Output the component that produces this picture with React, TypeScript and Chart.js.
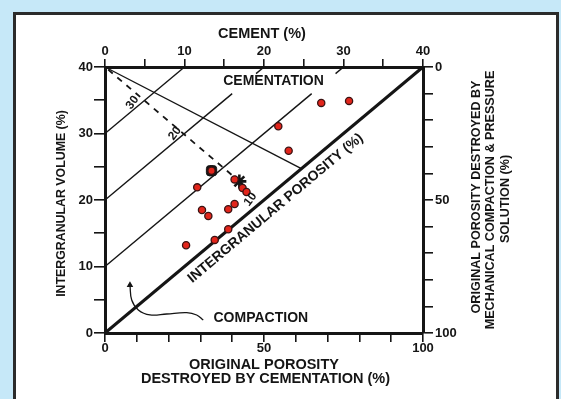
import { useEffect, useRef } from "react";
import { Chart, registerables } from "chart.js";

Chart.register(...registerables);

// Cement (%) vs intergranular volume (%) for each sample
const cementPct = [27.2, 30.7, 21.8, 23.1, 13.4, 16.3, 17.3, 17.8, 11.6, 12.2, 13.0, 15.5, 16.3, 15.5, 13.8, 10.2];
const igvPct = [34.6, 34.9, 31.1, 27.4, 24.4, 23.1, 21.8, 21.2, 21.9, 18.5, 17.6, 18.6, 19.4, 15.6, 14.0, 13.2];

// Mean sample and the highlighted sample
const meanPoint = { x: 16.9, y: 22.8 };
const boxedPoint = { x: 13.4, y: 24.4 };

// Axis tick labels
const cementLabels = [0, 10, 20, 30, 40];
const igvLabels = [0, 10, 20, 30, 40];
const cementationLabels = [0, 50, 100];
const compactionLabels = [0, 50, 100];

// Reference lines (cement %, intergranular volume %)
const porosityLine = [{ x: 0, y: 0 }, { x: 40, y: 40 }];
const cementLines = [
  [{ x: 0, y: 30 }, { x: 10, y: 40 }],
  [{ x: 0, y: 20 }, { x: 16, y: 36 }],
  [{ x: 19, y: 39 }, { x: 20, y: 40 }],
  [{ x: 0, y: 10 }, { x: 26, y: 36 }],
  [{ x: 29, y: 39 }, { x: 30, y: 40 }],
  [{ x: 0, y: 40 }, { x: 24.7, y: 24.7 }],
];
const trendLine = [{ x: 0.4, y: 39.6 }, { x: 16.9, y: 22.8 }];
const compactionArrow = [
  { x: 3.14, y: 7.2 }, { x: 3.36, y: 4.96 }, { x: 4.19, y: 3.46 }, { x: 5.66, y: 2.71 },
  { x: 7.76, y: 2.86 }, { x: 10.28, y: 3.05 }, { x: 11.53, y: 2.71 }, { x: 12.36, y: 1.95 },
];

// Annotation text placed in data coordinates
const trendLabels = [
  { text: "30", x: 3.46, y: 34.65 },
  { text: "20", x: 8.8, y: 30.0 },
  { text: "10", x: 18.3, y: 20.1 },
];

const FONT = '"Liberation Sans", Arial, Helvetica, sans-serif';
const INK = "#151515";

function drawText(
  ctx: CanvasRenderingContext2D,
  text: string,
  x: number,
  y: number,
  size: number,
  rot = 0,
  sx = 1
) {
  ctx.save();
  ctx.translate(x, y);
  ctx.rotate((rot * Math.PI) / 180);
  ctx.scale(sx, 1);
  ctx.font = `bold ${size}px ${FONT}`;
  ctx.fillStyle = INK;
  ctx.textAlign = "center";
  ctx.textBaseline = "middle";
  ctx.fillText(text, 0, 0);
  ctx.restore();
}

const panelPlugin = {
  id: "panel",
  beforeDraw(chart: any) {
    const ctx = chart.ctx as CanvasRenderingContext2D;
    ctx.save();
    ctx.fillStyle = "#c6e8f8";
    ctx.fillRect(0, 0, chart.width, chart.height);
    ctx.fillStyle = "#ffffff";
    ctx.fillRect(14.5, 13.5, 543, chart.height + 10);
    ctx.strokeStyle = "#2b2b2b";
    ctx.lineWidth = 3;
    ctx.strokeRect(14.5, 13.5, 543, chart.height + 10);
    ctx.restore();
  },
};

const textPlugin = {
  id: "annotations",
  afterDraw(chart: any) {
    const ctx = chart.ctx as CanvasRenderingContext2D;
    const sx = chart.scales.x2;
    const sy = chart.scales.y;
    const px = (v: number) => sx.getPixelForValue(v);
    const py = (v: number) => sy.getPixelForValue(v);
    const a = chart.chartArea;
    const cx = (a.left + a.right) / 2;
    const cy = (a.top + a.bottom) / 2;

    // Axis titles
    drawText(ctx, "CEMENT (%)", cx - 2, a.top - 33.5, 14.5);
    drawText(ctx, "INTERGRANULAR VOLUME (%)", a.left - 44, cy + 3.5, 13, -90, 0.95);
    drawText(ctx, "ORIGINAL POROSITY", cx, a.bottom + 32, 14.5);
    drawText(ctx, "DESTROYED BY CEMENTATION (%)", cx + 1.5, a.bottom + 45.5, 14.5);
    drawText(ctx, "ORIGINAL POROSITY DESTROYED BY", a.right + 54, cy - 3, 12.6, -90);
    drawText(ctx, "MECHANICAL COMPACTION & PRESSURE", a.right + 67.5, cy, 12.6, -90);
    drawText(ctx, "SOLUTION (%)", a.right + 83, cy - 1, 12.6, -90);

    // Field labels
    drawText(ctx, "CEMENTATION", px(21.2), py(37.8), 14);
    drawText(ctx, "COMPACTION", px(19.6), py(2.26), 14);
    drawText(ctx, "INTERGRANULAR POROSITY (%)", px(21.45), py(18.75), 14, -40);
    for (const t of trendLabels) {
      drawText(ctx, t.text, px(t.x), py(t.y), 12, -52);
    }
  },
};

function tickCb(labels: number[]) {
  return (v: any) => (labels.includes(Number(v)) ? String(v) : "");
}

const tickFont = { family: FONT, size: 13, weight: "bold" as const };

function axis(extra: any, labels: number[], tickLength: number, padding: number, fitSize: number, horizontal: boolean) {
  return {
    type: "linear",
    ...extra,
    ticks: {
      ...(extra.ticks || {}),
      autoSkip: false,
      maxRotation: 0,
      padding,
      color: INK,
      font: tickFont,
      callback: tickCb(labels),
    },
    grid: {
      display: true,
      drawOnChartArea: false,
      drawTicks: true,
      tickLength,
      color: INK,
      lineWidth: 1.6,
    },
    border: { display: true, color: INK, width: 3 },
    afterFit(scale: any) {
      if (horizontal) scale.height = fitSize;
      else scale.width = fitSize;
    },
  };
}

export default function App() {
  const ref = useRef<HTMLCanvasElement | null>(null);

  useEffect(() => {
    if (!ref.current) return;
    const thin = { borderColor: INK, borderWidth: 1.4, pointRadius: 0, fill: false, order: 5 };

    const datasets: any[] = [
      {
        label: "samples",
        type: "scatter",
        data: cementPct.map((x, i) => ({ x, y: igvPct[i] })),
        pointRadius: 3.6,
        pointBackgroundColor: "#e2251b",
        pointBorderColor: "#3a1212",
        pointBorderWidth: 1.3,
        showLine: false,
        order: 0,
      },
      {
        label: "mean",
        type: "scatter",
        data: [meanPoint],
        pointStyle: "star",
        pointRadius: 7,
        pointBorderColor: INK,
        pointBorderWidth: 2.6,
        showLine: false,
        order: 1,
      },
      {
        label: "boxed",
        type: "scatter",
        data: [boxedPoint],
        pointStyle: "rectRounded",
        pointRadius: 6,
        pointBackgroundColor: INK,
        pointBorderColor: INK,
        showLine: false,
        order: 2,
      },
      {
        label: "porosity",
        type: "line",
        data: porosityLine,
        borderColor: INK,
        borderWidth: 3,
        pointRadius: 0,
        fill: false,
        order: 4,
      },
      ...cementLines.map((d, i) => ({ label: `cement-${i}`, type: "line", data: d, ...thin })),
      {
        label: "trend",
        type: "line",
        data: trendLine,
        ...thin,
        borderWidth: 1.8,
        borderDash: [6, 6],
      },
      {
        label: "compaction",
        type: "line",
        data: compactionArrow,
        ...thin,
        borderWidth: 1.3,
        tension: 0.4,
        pointStyle: "triangle",
        pointRadius: compactionArrow.map((_, i) => (i === 0 ? 2.5 : 0)),
        pointBackgroundColor: INK,
        pointBorderColor: INK,
      },
    ];
    for (const d of datasets) {
      d.xAxisID = "x2";
      d.yAxisID = "y";
      d.clip = false;
    }

    const chart = new Chart(ref.current, {
      type: "scatter",
      data: { datasets },
      options: {
        responsive: false,
        animation: false,
        devicePixelRatio: 1,
        layout: { padding: 0 },
        plugins: { legend: { display: false }, tooltip: { enabled: false }, title: { display: false } },
        scales: {
          x: axis({ position: "bottom", min: 0, max: 100, ticks: { stepSize: 10 } }, cementationLabels, 9, -1, 66, true),
          x2: axis({ position: "top", min: 0, max: 40, ticks: { stepSize: 5 } }, cementLabels, 8, 0, 67, true),
          y: axis({ position: "left", min: 0, max: 40, ticks: { stepSize: 5 } }, igvLabels, 11, 1, 105, false),
          y2: axis({ position: "right", min: 0, max: 100, reverse: true, ticks: { stepSize: 10 } }, compactionLabels, 10, 2, 138, false),
        } as any,
      },
      plugins: [panelPlugin, textPlugin],
    } as any);

    return () => chart.destroy();
  }, []);

  return (
    <div style={{ position: "fixed", left: 0, top: 0, width: 561, height: 399 }}>
      <canvas ref={ref} width={561} height={399} style={{ display: "block" }} />
    </div>
  );
}
